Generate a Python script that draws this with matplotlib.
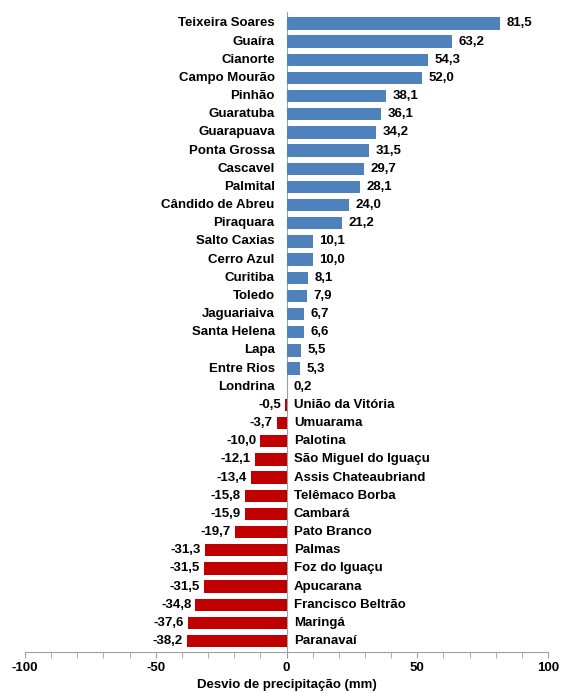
import matplotlib
matplotlib.use("Agg")
import matplotlib.pyplot as plt
from matplotlib.ticker import MultipleLocator

plt.rcParams['font.family'] = ['Liberation Sans', 'DejaVu Sans']

stations = ["Teixeira Soares", "Guaíra", "Cianorte", "Campo Mourão", "Pinhão", "Guaratuba",
            "Guarapuava", "Ponta Grossa", "Cascavel", "Palmital", "Cândido de Abreu", "Piraquara",
            "Salto Caxias", "Cerro Azul", "Curitiba", "Toledo", "Jaguariaiva", "Santa Helena",
            "Lapa", "Entre Rios", "Londrina", "União da Vitória", "Umuarama", "Palotina",
            "São Miguel do Iguaçu", "Assis Chateaubriand", "Telêmaco Borba", "Cambará",
            "Pato Branco", "Palmas", "Foz do Iguaçu", "Apucarana", "Francisco Beltrão",
            "Maringá", "Paranavaí"]
values = [81.5, 63.2, 54.3, 52.0, 38.1, 36.1, 34.2, 31.5, 29.7, 28.1, 24.0, 21.2,
          10.1, 10.0, 8.1, 7.9, 6.7, 6.6, 5.5, 5.3, 0.2, -0.5, -3.7, -10.0, -12.1, -13.4,
          -15.8, -15.9, -19.7, -31.3, -31.5, -31.5, -34.8, -37.6, -38.2]
xticks = [-100, -50, 0, 50, 100]
xlabel = "Desvio de precipitação (mm)"

fs = 9.5
fig = plt.figure(figsize=(5.61, 6.93), dpi=100)
ax = fig.add_axes([25/561, 41/693, 523/561, 0.982 - 41/693])

n = len(stations)
ypos = list(range(n))
colors = ["#4F81BD" if v >= 0 else "#C00000" for v in values]
ax.barh(ypos, values, height=0.68, color=colors, zorder=2)

for y, name, v in zip(ypos, stations, values):
    lab = f"{v:.1f}".replace(".", ",")
    if v >= 0:
        ax.text(-4.5, y, name, ha="right", va="center", fontsize=fs, fontweight="bold")
        ax.text(v + 2.5, y, lab, ha="left", va="center", fontsize=fs, fontweight="bold")
    else:
        ax.text(2.8, y, name, ha="left", va="center", fontsize=fs, fontweight="bold")
        ax.text(v - 1.6, y, lab, ha="right", va="center", fontsize=fs, fontweight="bold")

ax.set_xlim(-100, 100)
ax.set_ylim(n - 0.4, -0.6)
ax.set_xticks(xticks)
ax.set_xticklabels([str(t) for t in xticks], fontsize=fs, fontweight="bold")
ax.xaxis.set_minor_locator(MultipleLocator(10))
ax.tick_params(axis="x", which="both", direction="out", length=4, color="#A0A0A0", pad=3)
ax.set_yticks([])
for s in ["top", "right", "left"]:
    ax.spines[s].set_visible(False)
ax.spines["bottom"].set_color("#A0A0A0")
ax.axvline(0, color="#A0A0A0", lw=0.8, zorder=1)
ax.set_xlabel(xlabel, fontsize=fs, fontweight="bold", labelpad=4)

fig.savefig("out.png", dpi=100)
